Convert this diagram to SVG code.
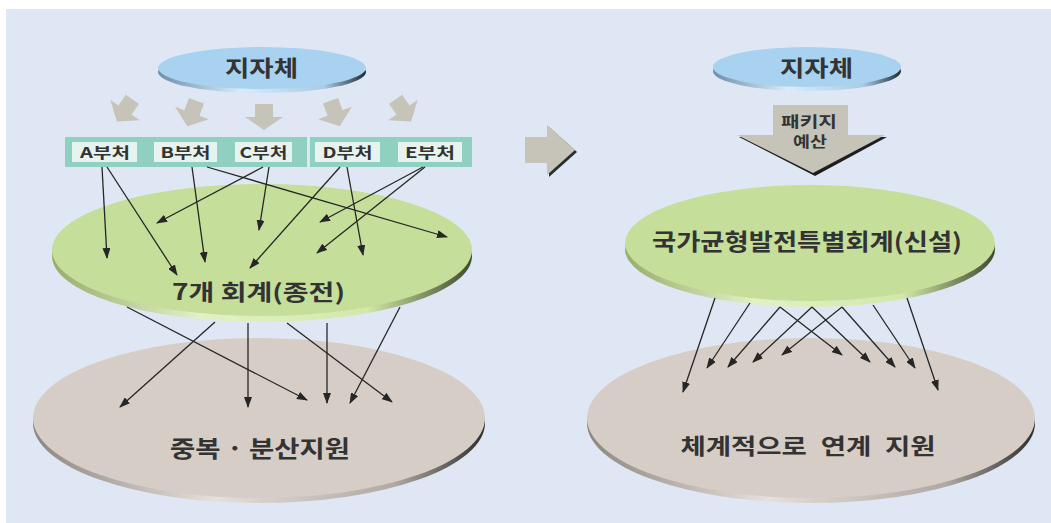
<svg xmlns="http://www.w3.org/2000/svg" width="1051" height="523" viewBox="0 0 1051 523">
<style>
.t{font-family:"Noto Sans CJK KR","Noto Sans",sans-serif;font-weight:bold;fill:#333;text-anchor:middle}
.dl{font-size:15px}
.cn line{stroke:#262626;stroke-width:1.3;marker-end:url(#ah)}
.ga{fill:#c6c4b8}
.db{fill:#e6f3ee}
</style>
<defs>
<marker id="ah" markerUnits="userSpaceOnUse" markerWidth="11" markerHeight="8" refX="10" refY="4" orient="auto">
<path d="M0,0 L11,4 L0,8 z" fill="#262626"/>
</marker>
<linearGradient id="gRim" x1="0" x2="1" y1="0" y2="0">
<stop offset="0" stop-color="#98ad6c"/><stop offset="0.35" stop-color="#e2f1c6"/><stop offset="0.75" stop-color="#d2e8aa"/><stop offset="1" stop-color="#3f4a2c"/>
</linearGradient>
<linearGradient id="bRim" x1="0" x2="1" y1="0" y2="0">
<stop offset="0" stop-color="#8c8580"/><stop offset="0.4" stop-color="#e6e0da"/><stop offset="0.8" stop-color="#b0a9a3"/><stop offset="1" stop-color="#2e2e2e"/>
</linearGradient>
<linearGradient id="uRim" x1="0" x2="1" y1="0" y2="0">
<stop offset="0" stop-color="#6e8fa8"/><stop offset="0.4" stop-color="#d8ecfa"/><stop offset="0.8" stop-color="#a9cbe6"/><stop offset="1" stop-color="#1f2a33"/>
</linearGradient>
</defs>
<rect x="6" y="9" width="1045" height="514" fill="#e0e7f4"/>

<g id="lgov-left">
<ellipse cx="262" cy="72" rx="104" ry="21" fill="url(#uRim)"/>
<ellipse cx="262" cy="68" rx="104" ry="21" fill="#a9d1f0"/>
<text class="t" x="261.5" y="76" font-size="22" textLength="73" lengthAdjust="spacingAndGlyphs">지자체</text>
</g>

<g id="flow-arrows">
<path class="ga" transform="translate(125,110) rotate(35)" d="M-8,-13 H8 V0 H18 L0,14 L-18,0 H-8 Z"/>
<path class="ga" transform="translate(192,113) rotate(20)" d="M-8,-13 H8 V0 H18 L0,14 L-18,0 H-8 Z"/>
<path class="ga" transform="translate(264,116) rotate(0)" d="M-9,-12 H9 V1 H19 L0,14 L-19,1 H-9 Z"/>
<path class="ga" transform="translate(335,113) rotate(-20)" d="M-8,-13 H8 V0 H18 L0,14 L-18,0 H-8 Z"/>
<path class="ga" transform="translate(403,110) rotate(-35)" d="M-8,-13 H8 V0 H18 L0,14 L-18,0 H-8 Z"/>
</g>

<g id="departments">
<rect x="65" y="137" width="242" height="30" fill="#8fd0c0"/>
<rect x="310" y="137" width="162" height="30" fill="#8fd0c0"/>
<g id="dept-a"><rect class="db" x="72" y="142" width="65" height="20"/><text class="t dl" x="105" y="157.5" textLength="50" lengthAdjust="spacingAndGlyphs">A부처</text></g>
<g id="dept-b"><rect class="db" x="154" y="142" width="63" height="20"/><text class="t dl" x="185.5" y="157.5" textLength="50" lengthAdjust="spacingAndGlyphs">B부처</text></g>
<g id="dept-c"><rect class="db" x="235" y="142" width="57" height="20"/><text class="t dl" x="263.5" y="157.5" textLength="48" lengthAdjust="spacingAndGlyphs">C부처</text></g>
<g id="dept-d"><rect class="db" x="315" y="142" width="65" height="20"/><text class="t dl" x="347.5" y="157.5" textLength="50" lengthAdjust="spacingAndGlyphs">D부처</text></g>
<g id="dept-e"><rect class="db" x="398" y="142" width="64" height="20"/><text class="t dl" x="430" y="157.5" textLength="50" lengthAdjust="spacingAndGlyphs">E부처</text></g>
</g>

<g id="old-accounts">
<ellipse cx="262" cy="256" rx="210" ry="66" fill="url(#gRim)"/>
<ellipse cx="262" cy="250" rx="210" ry="66" fill="#c5de9a"/>
<text class="t" x="258.5" y="300" font-size="22" textLength="173" lengthAdjust="spacingAndGlyphs">7개 회계(종전)</text>
</g>

<g id="dup-support">
<ellipse cx="259" cy="423" rx="226" ry="80" fill="url(#bRim)"/>
<ellipse cx="259" cy="418" rx="226" ry="80" fill="#d5cdc6"/>
<text class="t" x="260" y="457" font-size="23" textLength="180" lengthAdjust="spacingAndGlyphs">중복 · 분산지원</text>
</g>

<g id="transition-arrow">
<path d="M549,127 L577,152 L549,177 Z" fill="#2e2e2e"/>
<path d="M525,137 H547 V125 L575,150 L547,175 V163 H525 Z" fill="#c6c4b8"/>
</g>

<g id="lgov-right">
<ellipse cx="807" cy="71" rx="94" ry="20" fill="url(#uRim)"/>
<ellipse cx="807" cy="67" rx="94" ry="20" fill="#a9d1f0"/>
<text class="t" x="816.5" y="76" font-size="22" textLength="73" lengthAdjust="spacingAndGlyphs">지자체</text>
</g>

<g id="package-budget">
<path d="M739,137 L887,137 L815,176 Z" fill="#1e1e1e"/>
<path d="M773,105 H848 V135 H885 L813,173 L737,135 H773 Z" fill="#c6c4b8"/>
<text class="t" x="809" y="126.5" font-size="15" textLength="56" lengthAdjust="spacingAndGlyphs">패키지</text>
<text class="t" x="810" y="146.5" font-size="15" textLength="34" lengthAdjust="spacingAndGlyphs">예산</text>
</g>

<g id="new-account">
<ellipse cx="810" cy="249" rx="185" ry="58" fill="url(#gRim)"/>
<ellipse cx="810" cy="243" rx="185" ry="58" fill="#c5de9a"/>
<text class="t" x="807" y="250" font-size="23" textLength="310" lengthAdjust="spacingAndGlyphs">국가균형발전특별회계(신설)</text>
</g>

<g id="linked-support">
<ellipse cx="811" cy="423" rx="224" ry="80" fill="url(#bRim)"/>
<ellipse cx="811" cy="418" rx="224" ry="80" fill="#d5cdc6"/>
<text class="t" x="808" y="454" font-size="22" word-spacing="6" textLength="255" lengthAdjust="spacingAndGlyphs">체계적으로 연계 지원</text>
</g>

<g id="connectors" class="cn">
<line x1="102" y1="167" x2="107" y2="258"/>
<line x1="107" y1="167" x2="177" y2="275"/>
<line x1="192" y1="167" x2="205" y2="262"/>
<line x1="207" y1="167" x2="447" y2="237"/>
<line x1="263" y1="167" x2="157" y2="223"/>
<line x1="269" y1="167" x2="259" y2="230"/>
<line x1="340" y1="167" x2="250" y2="268"/>
<line x1="347" y1="167" x2="363" y2="255"/>
<line x1="423" y1="167" x2="320" y2="222"/>
<line x1="425" y1="167" x2="317" y2="253"/>
<line x1="127" y1="307" x2="307" y2="400"/>
<line x1="215" y1="322" x2="120" y2="407"/>
<line x1="248" y1="323" x2="248" y2="407"/>
<line x1="287" y1="323" x2="392" y2="402"/>
<line x1="327" y1="323" x2="327" y2="403"/>
<line x1="400" y1="307" x2="350" y2="403"/>
<line x1="715" y1="298" x2="683" y2="392"/>
<line x1="750" y1="303" x2="707" y2="368"/>
<line x1="780" y1="307" x2="728" y2="367"/>
<line x1="812" y1="307" x2="753" y2="362"/>
<line x1="842" y1="307" x2="782" y2="355"/>
<line x1="780" y1="307" x2="842" y2="355"/>
<line x1="812" y1="307" x2="870" y2="362"/>
<line x1="842" y1="307" x2="895" y2="367"/>
<line x1="873" y1="305" x2="915" y2="368"/>
<line x1="907" y1="298" x2="938" y2="390"/>
</g>
</svg>
